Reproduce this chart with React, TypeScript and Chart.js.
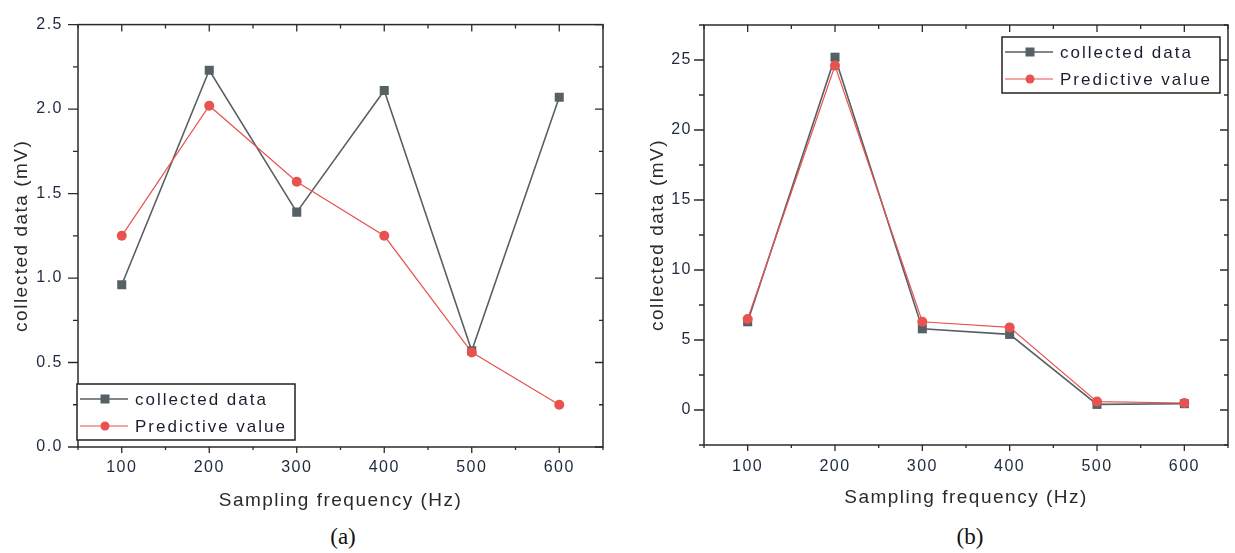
import React, { useEffect, useRef } from 'react';
import { Chart, registerables } from 'chart.js';

Chart.register(...registerables);

// ---------- data ----------
const frequencies = [100, 200, 300, 400, 500, 600];
const collectedA = [0.96, 2.23, 1.39, 2.11, 0.57, 2.07];
const predictiveA = [1.25, 2.02, 1.57, 1.25, 0.56, 0.25];
const collectedB = [6.3, 25.2, 5.8, 5.4, 0.4, 0.45];
const predictiveB = [6.5, 24.6, 6.3, 5.9, 0.6, 0.5];
const xTickValues = [100, 200, 300, 400, 500, 600];
const yTickValuesA = [0, 0.5, 1, 1.5, 2, 2.5];
const yTickValuesB = [0, 5, 10, 15, 20, 25];
const seriesNames = ['collected data', 'Predictive value'];
const xTitle = 'Sampling frequency (Hz)';
const yTitle = 'collected data (mV)';
const captions = ['(a)', '(b)'];

const GREY = '#566164';
const RED = '#e8534f';
const AXIS = '#2b2b2b';
const TICK_TXT = '#1d2a3c';

type PanelCfg = {
  collected: number[];
  predictive: number[];
  yMin: number;
  yMax: number;
  yTicks: number[];
  yDecimals: number;
  pad: { top: number; right: number };
  yWidth: number;
  xHeight: number;
  yLabelPad: number;
  xLabelPad: number;
  yTitlePad: number;
  xTitlePad: number;
  legend: { corner: 'bl' | 'tr'; dx: number; dy: number };
};

const panels: PanelCfg[] = [
  {
    collected: collectedA,
    predictive: predictiveA,
    yMin: 0,
    yMax: 2.5,
    yTicks: yTickValuesA,
    yDecimals: 1,
    pad: { top: 23, right: 12 },
    yWidth: 78,
    xHeight: 73,
    yLabelPad: 15,
    xLabelPad: 11,
    yTitlePad: 10,
    xTitlePad: 8,
    legend: { corner: 'bl', dx: -1, dy: 7 },
  },
  {
    collected: collectedB,
    predictive: predictiveB,
    yMin: -2.5,
    yMax: 27.5,
    yTicks: yTickValuesB,
    yDecimals: 0,
    pad: { top: 25, right: 7 },
    yWidth: 84,
    xHeight: 75,
    yLabelPad: 12,
    xLabelPad: 12,
    yTitlePad: 26,
    xTitlePad: 11,
    legend: { corner: 'tr', dx: 8, dy: 12 },
  },
];

function midpoints(vals: number[], lo: number, hi: number): number[] {
  const step = vals[1] - vals[0];
  const out: number[] = [];
  for (let v = vals[0] - step / 2; v <= hi + 1e-9; v += step) {
    if (v >= lo - 1e-9) out.push(v);
  }
  return out;
}

function framePlugin(cfg: PanelCfg) {
  return {
    id: 'originFrame',
    beforeDraw(chart: any) {
      chart.ctx.letterSpacing = '1.5px';
    },
    afterDraw(chart: any) {
      const { ctx, chartArea: a, scales } = chart;
      const xs = scales.x;
      const ys = scales.y;
      ctx.save();
      ctx.letterSpacing = '0px';
      ctx.strokeStyle = AXIS;
      ctx.lineWidth = 1.5;
      ctx.strokeRect(a.left, a.top, a.right - a.left, a.bottom - a.top);

      const xMinor = midpoints(xTickValues, xs.min, xs.max);
      const yMinor = midpoints(cfg.yTicks, cfg.yMin, cfg.yMax);
      ctx.lineWidth = 1.3;
      ctx.beginPath();
      const hTick = (v: number, len: number, side: 'l' | 'r') => {
        const py = ys.getPixelForValue(v);
        if (side === 'l') {
          ctx.moveTo(a.left, py);
          ctx.lineTo(a.left - len, py);
        } else {
          ctx.moveTo(a.right, py);
          ctx.lineTo(a.right - len, py);
        }
      };
      const vTick = (v: number, len: number, side: 'b' | 't') => {
        const px = xs.getPixelForValue(v);
        if (side === 'b') {
          ctx.moveTo(px, a.bottom);
          ctx.lineTo(px, a.bottom + len);
        } else {
          ctx.moveTo(px, a.top);
          ctx.lineTo(px, a.top + len);
        }
      };
      cfg.yTicks.forEach((v) => {
        hTick(v, 10, 'l');
        hTick(v, 8, 'r');
      });
      yMinor.forEach((v) => {
        hTick(v, 5, 'l');
        hTick(v, 4, 'r');
      });
      xTickValues.forEach((v) => {
        vTick(v, 6, 'b');
        vTick(v, 7, 't');
      });
      xMinor.forEach((v) => {
        vTick(v, 3, 'b');
        vTick(v, 4, 't');
      });
      ctx.stroke();

      // legend
      const w = 218;
      const h = 56;
      let lx: number, ly: number;
      if (cfg.legend.corner === 'bl') {
        lx = a.left + cfg.legend.dx;
        ly = a.bottom - cfg.legend.dy - h;
      } else {
        lx = a.right - cfg.legend.dx - w;
        ly = a.top + cfg.legend.dy;
      }
      ctx.fillStyle = '#ffffff';
      ctx.fillRect(lx, ly, w, h);
      ctx.strokeStyle = '#222';
      ctx.lineWidth = 1.5;
      ctx.strokeRect(lx, ly, w, h);
      const datasets = chart.data.datasets;
      datasets.forEach((ds: any, i: number) => {
        const ry = ly + 15 + i * 27;
        ctx.strokeStyle = ds.borderColor;
        ctx.lineWidth = ds.borderWidth;
        ctx.beginPath();
        ctx.moveTo(lx + 3, ry);
        ctx.lineTo(lx + 51, ry);
        ctx.stroke();
        ctx.fillStyle = ds.pointBackgroundColor;
        if (ds.pointStyle === 'rect') {
          ctx.fillRect(lx + 28 - 4.5, ry - 4.5, 9, 9);
        } else {
          ctx.beginPath();
          ctx.arc(lx + 28, ry, 4.5, 0, Math.PI * 2);
          ctx.fill();
        }
        ctx.fillStyle = '#1a1f2e';
        ctx.font = '17px "Liberation Sans", Arial, sans-serif';
        ctx.letterSpacing = '2px';
        ctx.textAlign = 'left';
        ctx.textBaseline = 'middle';
        ctx.fillText(ds.label, lx + 58, ry + 1);
        ctx.letterSpacing = '0px';
      });
      ctx.restore();
    },
  };
}

function Panel({ cfg, left }: { cfg: PanelCfg; left: number }) {
  const ref = useRef<HTMLCanvasElement | null>(null);
  useEffect(() => {
    if (!ref.current) return;
    const chart = new Chart(ref.current, {
      type: 'line',
      data: {
        datasets: [
          {
            label: seriesNames[0],
            data: frequencies.map((f, i) => ({ x: f, y: cfg.collected[i] })),
            borderColor: GREY,
            backgroundColor: GREY,
            pointBackgroundColor: GREY,
            pointBorderColor: GREY,
            pointStyle: 'rect',
            pointRadius: 6.4,
            pointBorderWidth: 0,
            borderWidth: 1.6,
            tension: 0,
            order: 2,
          },
          {
            label: seriesNames[1],
            data: frequencies.map((f, i) => ({ x: f, y: cfg.predictive[i] })),
            borderColor: RED,
            backgroundColor: RED,
            pointBackgroundColor: RED,
            pointBorderColor: RED,
            pointStyle: 'circle',
            pointRadius: 5,
            pointBorderWidth: 0,
            borderWidth: 1.2,
            tension: 0,
            order: 1,
          },
        ],
      },
      options: {
        responsive: false,
        animation: false,
        events: [],
        layout: { padding: { left: 0, top: cfg.pad.top, right: cfg.pad.right, bottom: 0 } },
        plugins: {
          legend: { display: false },
          tooltip: { enabled: false },
        },
        scales: {
          x: {
            type: 'linear',
            min: 50,
            max: 650,
            grid: { display: false, drawTicks: false },
            border: { display: false },
            afterBuildTicks: (s: any) => {
              s.ticks = xTickValues.map((v) => ({ value: v }));
            },
            afterFit: (s: any) => {
              s.height = cfg.xHeight;
            },
            ticks: {
              padding: cfg.xLabelPad,
              color: TICK_TXT,
              maxRotation: 0,
              autoSkip: false,
              font: { family: '"Liberation Sans", Arial, sans-serif', size: 16 },
              callback: (v: any) => String(v),
            },
            title: {
              display: true,
              text: xTitle,
              color: '#2a2a2a',
              padding: { top: 0, bottom: cfg.xTitlePad },
              font: { family: '"Liberation Sans", Arial, sans-serif', size: 19 },
            },
          },
          y: {
            type: 'linear',
            min: cfg.yMin,
            max: cfg.yMax,
            grid: { display: false, drawTicks: false },
            border: { display: false },
            afterBuildTicks: (s: any) => {
              s.ticks = cfg.yTicks.map((v) => ({ value: v }));
            },
            afterFit: (s: any) => {
              s.width = cfg.yWidth;
            },
            ticks: {
              padding: cfg.yLabelPad,
              color: TICK_TXT,
              autoSkip: false,
              font: { family: '"Liberation Sans", Arial, sans-serif', size: 16 },
              callback: (v: any) => Number(v).toFixed(cfg.yDecimals),
            },
            title: {
              display: true,
              text: yTitle,
              color: '#2a2a2a',
              padding: { top: cfg.yTitlePad, bottom: 0 },
              font: { family: '"Liberation Sans", Arial, sans-serif', size: 19 },
            },
          },
        },
      } as any,
      plugins: [framePlugin(cfg)],
    });
    return () => chart.destroy();
  }, [cfg]);
  return (
    <canvas
      ref={ref}
      width={615}
      height={520}
      style={{ position: 'absolute', left, top: 0, width: 615, height: 520 }}
    />
  );
}

export default function App() {
  return (
    <div
      style={{
        position: 'absolute',
        left: 0,
        top: 0,
        width: 1235,
        height: 553,
        background: '#ffffff',
        overflow: 'hidden',
      }}
    >
      <Panel cfg={panels[0]} left={0} />
      <Panel cfg={panels[1]} left={620} />
      {captions.map((c, i) => (
        <div
          key={c}
          style={{
            position: 'absolute',
            left: i === 0 ? 293 : 920,
            width: 100,
            top: 522,
            textAlign: 'center',
            fontFamily: '"Liberation Serif", "Times New Roman", serif',
            fontSize: 23,
            lineHeight: '30px',
            color: '#111',
          }}
        >
          {c}
        </div>
      ))}
    </div>
  );
}
